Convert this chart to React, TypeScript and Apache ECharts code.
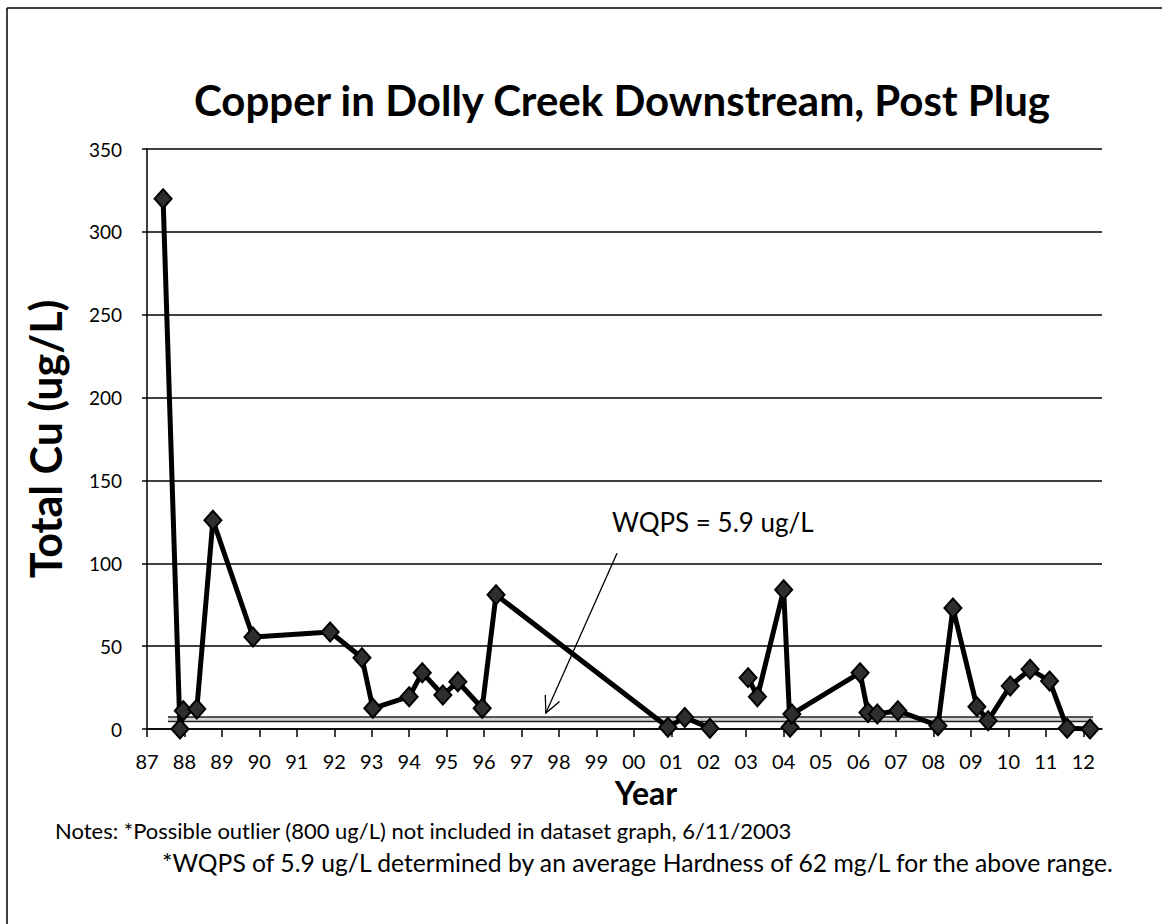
import React, { useEffect, useRef } from "react";
import * as echarts from "echarts";

// Sample dates (decimal years) and total copper (ug/L); null = break in the line
const years = [
  1987.43, 1987.88, 1987.97, 1988.33, 1988.76, 1989.83, 1991.89, 1992.74,
  1993.03, 1994.0, 1994.35, 1994.9, 1995.3, 1995.95, 1996.32, 2000.91,
  2001.36, 2002.03, 2002.5, 2003.05, 2003.3, 2004.0, 2004.17, 2004.22,
  2006.04, 2006.25, 2006.5, 2007.05, 2008.12, 2008.52, 2009.16, 2009.46,
  2010.05, 2010.58, 2011.1, 2011.57, 2012.18,
];
const cuValues: (number | null)[] = [
  320, 0, 11, 12, 126, 55.5, 58.5, 43,
  12.5, 19.5, 34, 20.5, 28.5, 12.5, 81, 1,
  7, 0.5, null, 31, 19.5, 84, 1, 9,
  34, 10, 9, 11, 2, 73, 13.5, 5,
  26, 36, 29, 0.5, 0,
];
const wqpsValue = 5.9;
const wqpsYears = [1987.56, 2012.26];
const arrowFrom = [1999.55, 106];
const arrowTo = [1997.65, 9.6];

const FONT = "Lato, 'Noto Sans', sans-serif";

export default function App() {
  const ref = useRef<HTMLDivElement>(null);
  useEffect(() => {
    const chart = echarts.init(ref.current!, null, { renderer: "svg" });
    const cuData = years.map((y, i) => [y, cuValues[i] === null ? "-" : cuValues[i]]);
    const wqpsData = wqpsYears.map((y) => [y, wqpsValue]);
    chart.setOption({
      animation: false,
      backgroundColor: "#fff",
      title: {
        text: "Copper in Dolly Creek Downstream, Post Plug",
        left: 189,
        top: 74,
        textStyle: { fontFamily: FONT, fontWeight: "bold", fontSize: 42, color: "#000" },
      },
      grid: { left: 147, top: 149, width: 955, height: 580, containLabel: false },
      xAxis: {
        type: "value",
        min: 1987,
        max: 2012.5,
        interval: 1,
        axisLine: { show: true, lineStyle: { color: "#000", width: 1.5 } },
        axisTick: { show: true, length: 8, lineStyle: { color: "#000", width: 1.5 } },
        splitLine: { show: false },
        axisLabel: {
          color: "#000",
          fontFamily: FONT,
          fontSize: 20,
          margin: 22,
          showMaxLabel: false,
          formatter: (v: number) =>
            Number.isInteger(v) ? String(v % 100).padStart(2, "0") : "",
        },
      },
      yAxis: {
        type: "value",
        min: 0,
        max: 350,
        interval: 50,
        name: "Total Cu (ug/L)",
        nameLocation: "middle",
        nameGap: 80,
        nameTextStyle: { fontFamily: FONT, fontWeight: "bold", fontSize: 43, color: "#000" },
        axisLine: { show: true, lineStyle: { color: "#000", width: 1.5 } },
        axisTick: { show: true, length: 5, lineStyle: { color: "#000", width: 1.5 } },
        splitLine: { show: true, lineStyle: { color: "#000", width: 1.5 } },
        axisLabel: { color: "#000", fontFamily: FONT, fontSize: 19, margin: 25 },
      },
      series: [
        {
          type: "line",
          data: wqpsData,
          symbol: "none",
          silent: true,
          lineStyle: { color: "#222", width: 6 },
          z: 2,
        },
        {
          type: "line",
          data: wqpsData,
          symbol: "none",
          silent: true,
          lineStyle: { color: "#d4d4d4", width: 3 },
          z: 3,
        },
        {
          type: "line",
          data: cuData,
          connectNulls: false,
          symbol: "diamond",
          symbolSize: [17, 19],
          lineStyle: { color: "#000", width: 5 },
          itemStyle: { color: "#2e2e2e", borderColor: "#000", borderWidth: 2 },
          z: 5,
        },
      ],
    });
    const p0 = chart.convertToPixel({ gridIndex: 0 }, arrowFrom) as number[];
    const p1 = chart.convertToPixel({ gridIndex: 0 }, arrowTo) as number[];
    const dx = p1[0] - p0[0];
    const dy = p1[1] - p0[1];
    const len = Math.sqrt(dx * dx + dy * dy);
    const ux = dx / len;
    const uy = dy / len;
    const head = 18;
    const ang = 0.45;
    const rot = (a: number) => [
      p1[0] - head * (ux * Math.cos(a) - uy * Math.sin(a)),
      p1[1] - head * (ux * Math.sin(a) + uy * Math.cos(a)),
    ];
    chart.setOption({
      graphic: [
        { type: "line", shape: { x1: 7, y1: 8, x2: 1162, y2: 8 }, style: { stroke: "#000", lineWidth: 1.5 } },
        { type: "line", shape: { x1: 7, y1: 8, x2: 7, y2: 924 }, style: { stroke: "#000", lineWidth: 1.5 } },
        {
          type: "line",
          shape: { x1: p0[0], y1: p0[1], x2: p1[0], y2: p1[1] },
          style: { stroke: "#000", lineWidth: 1.3 },
          z: 10,
        },
        {
          type: "polyline",
          shape: { points: [rot(ang), p1, rot(-ang)] },
          style: { stroke: "#000", lineWidth: 1.3, fill: null },
          z: 10,
        },
        {
          type: "text",
          x: 612,
          y: 522,
          style: { text: "WQPS = 5.9 ug/L", font: `26px ${FONT}`, fill: "#000", verticalAlign: "middle" },
        },
        {
          type: "text",
          x: 646,
          y: 792,
          style: {
            text: "Year",
            font: `bold 32px ${FONT}`,
            fill: "#000",
            align: "center",
            verticalAlign: "middle",
          },
        },
        {
          type: "text",
          x: 55,
          y: 830,
          style: {
            text: "Notes: *Possible outlier (800 ug/L) not included in dataset graph, 6/11/2003",
            font: `22px ${FONT}`,
            fill: "#000",
            verticalAlign: "middle",
          },
        },
        {
          type: "text",
          x: 162,
          y: 862,
          style: {
            text: "*WQPS of 5.9 ug/L determined by an average Hardness of 62 mg/L for the above range.",
            font: `24.7px ${FONT}`,
            fill: "#000",
            verticalAlign: "middle",
          },
        },
      ],
    });
    return () => chart.dispose();
  }, []);
  return (
    <div
      ref={ref}
      style={{ position: "fixed", left: 0, top: 0, width: 1162, height: 924, background: "#fff" }}
    />
  );
}
